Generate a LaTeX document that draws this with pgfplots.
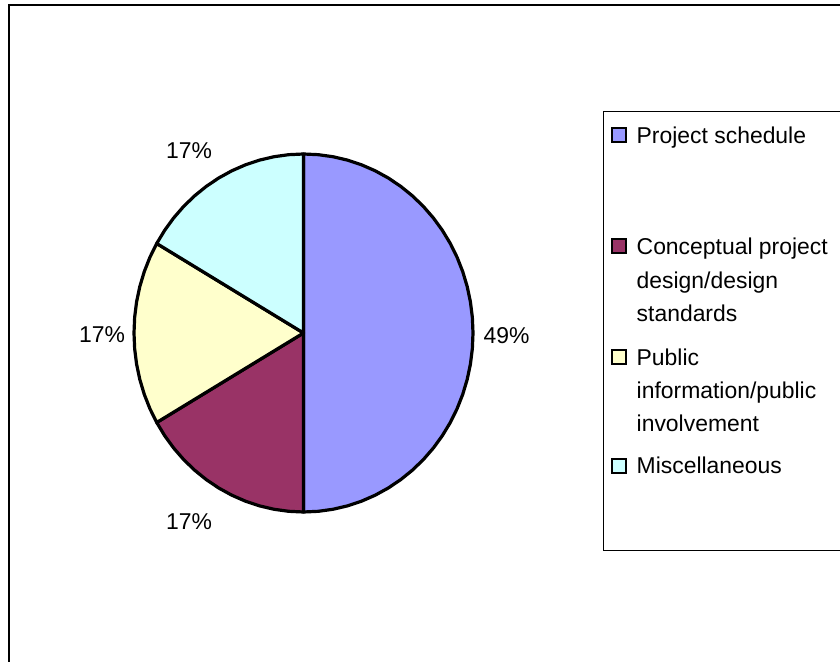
\documentclass[border=0pt]{standalone}
\usepackage{pgfplots}
\pgfplotsset{compat=1.18}
\usepgfplotslibrary{polar}
\usepackage{fontspec}
\setmainfont{Liberation Sans}
\definecolor{sblue}{HTML}{9999FF}
\definecolor{smaroon}{HTML}{993366}
\definecolor{syellow}{HTML}{FFFFCC}
\definecolor{scyan}{HTML}{CCFFFF}
\begin{document}
\fontsize{23}{33}\selectfont
\begin{tikzpicture}
\useasboundingbox (0bp,0bp) rectangle (840bp,662bp);
\fill[white] (0bp,0bp) rectangle (840bp,662bp);
% outer chart frame (right and bottom edges lie outside the picture)
\draw[line width=2.6bp] (9bp,-10bp) -- (9bp,657bp) -- (860bp,657bp);
% pie: shares 50 / 16.7 / 16.7 / 16.7 (labelled 49%, 17%, 17%, 17%), clockwise from 12 o'clock
\begin{axis}[
  hide axis, scale only axis, clip=false,
  width=339bp, height=358bp,
  xmin=-1, xmax=1, ymin=-1, ymax=1,
  anchor=center, at={(303.5bp,329bp)},
  every axis plot/.append style={line join=round, draw=black},
]
\addplot[fill=sblue, draw=black, line width=3.2bp, data cs=polar] coordinates {
(0,0) (90,1) (85,1) (80,1) (75,1) (70,1) (65,1) (60,1) (55,1) (50,1) (45,1) (40,1) (35,1) (30,1) (25,1) (20,1) (15,1) (10,1) (5,1) (0,1) (-5,1) (-10,1) (-15,1) (-20,1) (-25,1) (-30,1) (-35,1) (-40,1) (-45,1) (-50,1) (-55,1) (-60,1) (-65,1) (-70,1) (-75,1) (-80,1) (-85,1) (-90,1)
} -- cycle;
\addplot[fill=smaroon, draw=black, line width=3.2bp, data cs=polar] coordinates {
(0,0) (-90,1) (-95,1) (-100,1) (-105,1) (-110,1) (-115,1) (-120,1) (-125,1) (-130,1) (-135,1) (-140,1) (-145,1) (-150,1)
} -- cycle;
\addplot[fill=syellow, draw=black, line width=3.2bp, data cs=polar] coordinates {
(0,0) (-150,1) (-155,1) (-160,1) (-165,1) (-170,1) (-175,1) (-180,1) (-185,1) (-190,1) (-195,1) (-200,1) (-205,1) (-210,1)
} -- cycle;
\addplot[fill=scyan, draw=black, line width=3.2bp, data cs=polar] coordinates {
(0,0) (-210,1) (-215,1) (-220,1) (-225,1) (-230,1) (-235,1) (-240,1) (-245,1) (-250,1) (-255,1) (-260,1) (-265,1) (-270,1)
} -- cycle;
\end{axis}
% data labels
\node[anchor=base, inner sep=0pt] at (506.5bp,318bp) {49\%};
\node[anchor=base, inner sep=0pt] at (189bp,503bp) {17\%};
\node[anchor=base, inner sep=0pt] at (102bp,319bp) {17\%};
\node[anchor=base, inner sep=0pt] at (189bp,132bp) {17\%};
% legend
\draw[line width=1bp, fill=white] (603bp,111bp) rectangle (860bp,550bp);
\foreach \c/\y in {sblue/520, smaroon/409, syellow/298, scyan/189}{
  \draw[line width=2bp, fill=\c] (611.5bp,\y bp) rectangle (625.5bp,\y bp+14bp);
}
\node[anchor=base west, inner sep=0pt] at (636.5bp,518bp) {Project schedule};
\node[anchor=base west, inner sep=0pt] at (636.5bp,407bp) {Conceptual project};
\node[anchor=base west, inner sep=0pt] at (636.5bp,373.5bp) {design/design};
\node[anchor=base west, inner sep=0pt] at (636.5bp,340bp) {standards};
\node[anchor=base west, inner sep=0pt] at (636.5bp,296bp) {Public};
\node[anchor=base west, inner sep=0pt] at (636.5bp,263bp) {information/public};
\node[anchor=base west, inner sep=0pt] at (636.5bp,230bp) {involvement};
\node[anchor=base west, inner sep=0pt] at (636.5bp,188bp) {Miscellaneous};
\end{tikzpicture}
\end{document}
